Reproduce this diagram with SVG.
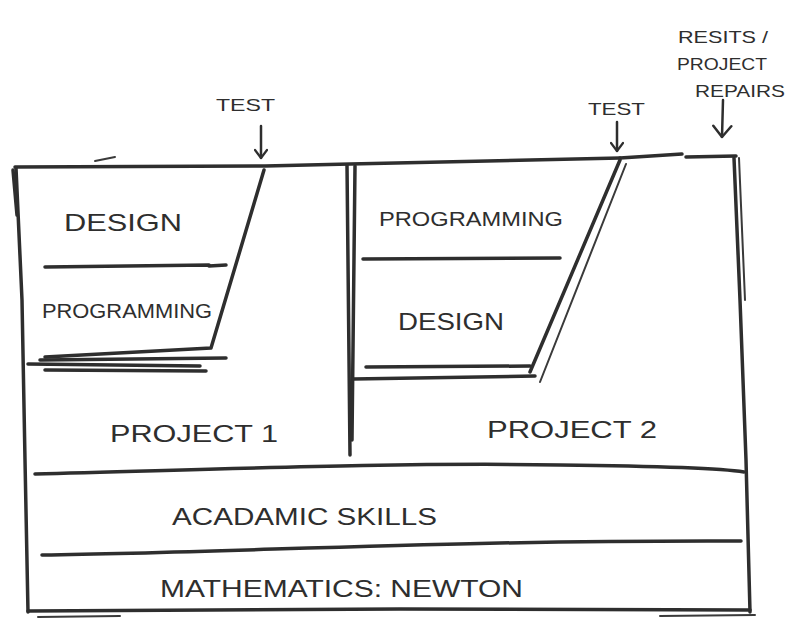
<svg xmlns="http://www.w3.org/2000/svg" width="790" height="625" viewBox="0 0 790 625">
<defs>
<style>
.ln{fill:none;stroke:#2e2e2e;stroke-width:3.5;stroke-linecap:round;stroke-linejoin:round}
.thin{fill:none;stroke:#3a3a3a;stroke-width:2;stroke-linecap:round}
.t{font-family:"Liberation Sans",Arial,sans-serif;fill:#2e2e2e;font-weight:normal}
.big{font-size:24px}
.mid{font-size:21px}
.sm{font-size:17px}
.ar{fill:none;stroke:#2e2e2e;stroke-width:2.5;stroke-linecap:round}
</style>
<marker id="v" viewBox="0 0 12 14" refX="11" refY="7" markerWidth="12" markerHeight="14" markerUnits="userSpaceOnUse" orient="auto">
<polyline points="3,1 11,7 3,13" fill="none" stroke="#2e2e2e" stroke-width="2.2" stroke-linecap="round" stroke-linejoin="round"/>
</marker>
<marker id="v2" viewBox="0 0 14 22" refX="13" refY="11" markerWidth="14" markerHeight="22" markerUnits="userSpaceOnUse" orient="auto">
<polyline points="2,2 13,11 2,20" fill="none" stroke="#2e2e2e" stroke-width="2.5" stroke-linecap="round" stroke-linejoin="round"/>
</marker>
</defs>
<rect width="790" height="625" fill="#ffffff"/>

<g id="frame">
<path class="ln" d="M15,167 L265,166 L350,164 L620,158"/>
<path class="thin" d="M95,161 L115,157"/>
<path class="ln" d="M620,158 L682,154 M686,157 L736,156"/>
<path class="ln" d="M16,168 L22,300 L25,460 L28,612"/>
<path class="ln" d="M13,170 L17,215"/>
<path class="ln" d="M734,158 L740,300 L746,460 L750,612"/>
<path class="thin" d="M739,158 L745,300"/>
<path class="ln" d="M28,611 L400,609 L750,610"/>
<path class="thin" d="M38,617 L120,616 M660,616 L755,615"/>
</g>

<g id="project1">
<path class="ln" d="M264,170 L211,348 L45,357"/>
<path class="ln" d="M45,267 L209,265 M209,266 L226,265"/>
<path class="ln" d="M40,360 L226,358 M28,364 L200,366 M45,370 L206,371"/>
<text class="t big" x="64" y="231" textLength="118" lengthAdjust="spacingAndGlyphs">DESIGN</text>
<text class="t mid" x="42" y="318" textLength="170" lengthAdjust="spacingAndGlyphs">PROGRAMMING</text>
<text class="t big" x="110" y="442" textLength="168" lengthAdjust="spacingAndGlyphs">PROJECT 1</text>
</g>

<g id="project2">
<path class="ln" d="M347,165 L350,455"/>
<path class="ln" d="M355,166 L352,440"/>
<path class="ln" d="M620,160 L530,372"/>
<path class="thin" d="M626,164 L540,382"/>
<path class="ln" d="M363,259 L560,258"/>
<path class="ln" d="M366,367 L530,366"/>
<path class="ln" d="M353,379 L535,376"/>
<text class="t mid" x="379" y="226" textLength="184" lengthAdjust="spacingAndGlyphs">PROGRAMMING</text>
<text class="t big" x="398" y="330" textLength="106" lengthAdjust="spacingAndGlyphs">DESIGN</text>
<text class="t big" x="487" y="438" textLength="170" lengthAdjust="spacingAndGlyphs">PROJECT 2</text>
</g>

<g id="academic-skills">
<path class="ln" d="M35,474 C200,470 400,462 560,465 C650,466 720,468 744,472"/>
<text class="t big" x="172" y="525" textLength="265" lengthAdjust="spacingAndGlyphs">ACADAMIC SKILLS</text>
</g>

<g id="mathematics">
<path class="ln" d="M42,555 C250,552 450,540 741,541"/>
<text class="t big" x="160" y="597" textLength="363" lengthAdjust="spacingAndGlyphs">MATHEMATICS: NEWTON</text>
</g>

<g id="test1">
<text class="t sm" x="216" y="111" textLength="59" lengthAdjust="spacingAndGlyphs">TEST</text>
</g>
<g id="test2">
<text class="t sm" x="588" y="115" textLength="57" lengthAdjust="spacingAndGlyphs">TEST</text>
</g>
<g id="resits">
<text class="t sm" x="678" y="43" textLength="90" lengthAdjust="spacingAndGlyphs">RESITS /</text>
<text class="t sm" x="677" y="70" textLength="90" lengthAdjust="spacingAndGlyphs">PROJECT</text>
<text class="t sm" x="695" y="97" textLength="90" lengthAdjust="spacingAndGlyphs">REPAIRS</text>
</g>

<g id="connectors">
<path class="ar" d="M261,126 L261,158" marker-end="url(#v)"/>
<path class="ar" d="M617,122 L617,151" marker-end="url(#v)"/>
<path class="ar" d="M723,100 L722,137" marker-end="url(#v2)"/>
</g>
</svg>
